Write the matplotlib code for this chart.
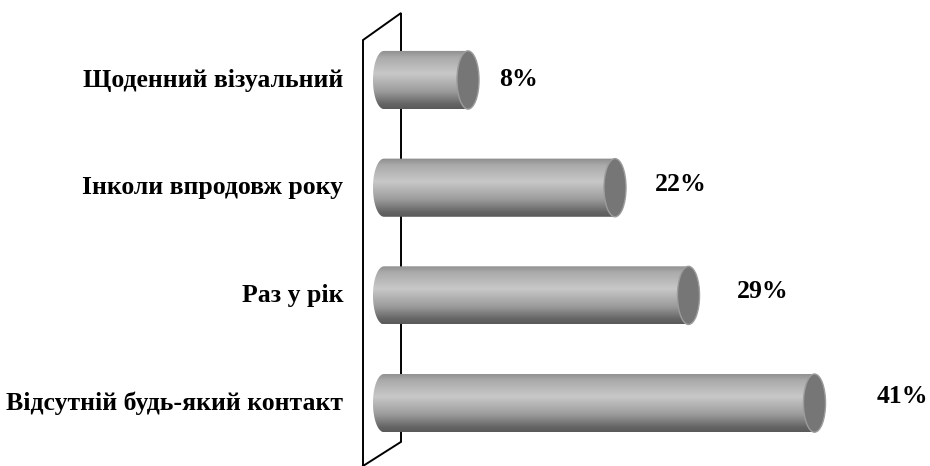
import numpy as np
import matplotlib
matplotlib.use("Agg")
import matplotlib.pyplot as plt
from matplotlib.colors import LinearSegmentedColormap
from matplotlib.patches import Ellipse, Polygon

# survey answers, top to bottom
categories = ["Щоденний візуальний", "Інколи впродовж року", "Раз у рік",
              "Відсутній будь-який контакт"]
values = [8, 22, 29, 41]
value_labels = ["8%", "22%", "29%", "41%"]

plt.rcParams['font.family'] = ['Liberation Serif', 'DejaVu Serif']

fig = plt.figure(figsize=(9.3, 4.66), dpi=100)
ax = fig.add_axes([0, 0, 1, 1])
ax.set_xlim(-384 / 10.5, (930 - 384) / 10.5)
ax.set_ylim((466 - 80) / 107.7, -80 / 107.7)
ax.axis("off")

# back wall of the 3d plot area
wall_x = [-2.0, -2.0, 1.62, 1.62, -2.0]
wall_y = [3.6, -0.371, -0.622, 3.36, 3.584]
ax.plot(wall_x, wall_y, color="black", lw=1.4, zorder=1, solid_joinstyle="miter")

shade = LinearSegmentedColormap.from_list(
    "cyl", [(0.0, "#8c8c8c"), (0.12, "#aaaaaa"), (0.4, "#c8c8c8"),
            (0.7, "#9c9c9c"), (0.92, "#646464"), (1.0, "#5a5a5a")])
grad = np.linspace(0, 1, 256).reshape(-1, 1)

h = 0.54   # bar thickness
rx = 1.05  # half width of the end ellipses

for i, (cat, v, lab) in enumerate(zip(categories, values, value_labels)):
    y = i
    # body outline: rounded left end + straight part up to the value
    t = np.linspace(np.pi / 2, 3 * np.pi / 2, 60)
    left = np.column_stack([rx * np.cos(t), y - h / 2 * np.sin(t)])
    pts = np.vstack([[[v, y - h / 2]], left, [[v, y + h / 2]]])
    body = Polygon(pts, closed=True, facecolor="none", edgecolor="none")
    ax.add_patch(body)
    im = ax.imshow(grad, cmap=shade, aspect="auto", interpolation="bilinear",
                   extent=(-rx, v, y + h / 2, y - h / 2), zorder=2)
    im.set_clip_path(body)
    ax.add_patch(Ellipse((v, y), 2 * rx, h, facecolor="#767676",
                         edgecolor="#9c9c9c", lw=1.0, zorder=3))

    ax.text(-3.9, y, cat, ha="right", va="center", fontsize=18.5,
            fontweight="bold", color="black")
    # value labels sit in perspective: further out and a bit higher for longer bars
    ax.text(3.95 + 1.107 * v, y - (v - 8) * 0.0019, lab, ha="center",
            va="center", fontsize=18.5, fontweight="bold", color="black")

fig.savefig("out.png", dpi=100)
